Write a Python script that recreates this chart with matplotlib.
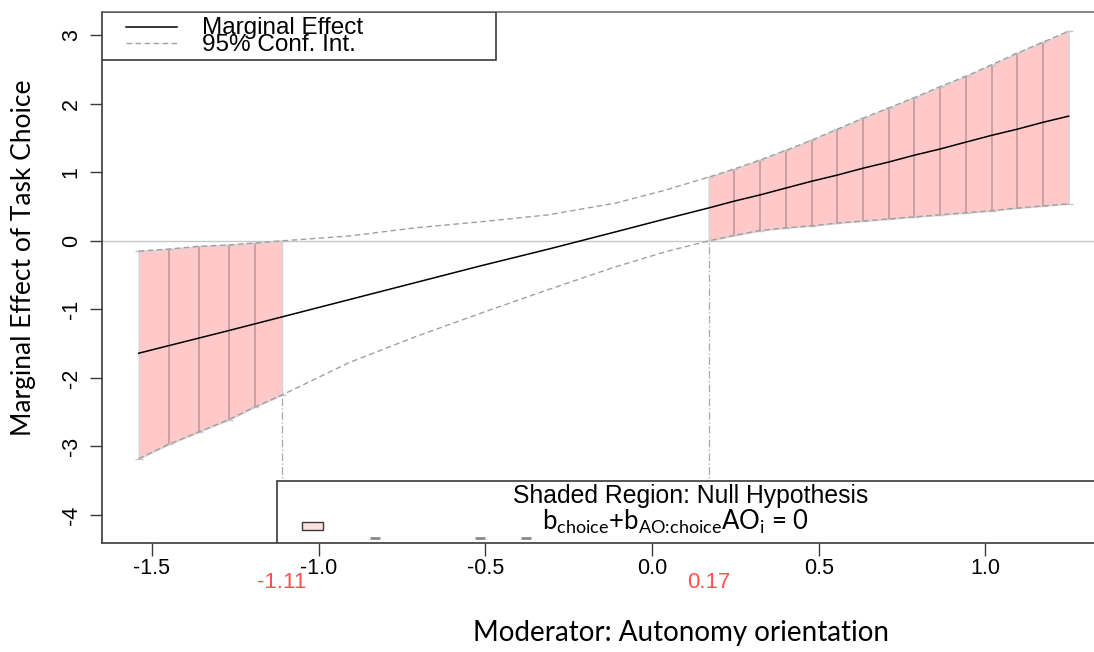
import numpy as np
import matplotlib
matplotlib.use("Agg")
import matplotlib.pyplot as plt
from matplotlib.patches import Rectangle
import matplotlib.transforms as mtransforms

# Datos
x_mod = [-1.54, -1.45, -1.36, -1.27, -1.19, -1.11, -0.91, -0.71, -0.51, -0.31,
         -0.11, 0.04, 0.17, 0.247, 0.324, 0.401, 0.479, 0.556, 0.633, 0.710,
         0.787, 0.864, 0.941, 1.019, 1.096, 1.173, 1.25]
effect = [-1.64, -1.53, -1.42, -1.31, -1.21, -1.11, -0.86, -0.61, -0.36, -0.12,
          0.13, 0.32, 0.48, 0.58, 0.67, 0.77, 0.87, 0.96, 1.06, 1.15,
          1.25, 1.34, 1.44, 1.54, 1.63, 1.73, 1.82]
ci_upper = [-0.15, -0.12, -0.08, -0.06, -0.03, 0.0, 0.07, 0.19, 0.28, 0.38,
            0.55, 0.74, 0.93, 1.05, 1.18, 1.32, 1.47, 1.63, 1.79, 1.94,
            2.09, 2.25, 2.40, 2.57, 2.74, 2.90, 3.06]
ci_lower = [-3.18, -2.97, -2.79, -2.61, -2.42, -2.25, -1.78, -1.40, -1.05, -0.71,
            -0.38, -0.16, 0.0, 0.08, 0.15, 0.19, 0.22, 0.26, 0.29, 0.32,
            0.35, 0.38, 0.41, 0.44, 0.48, 0.51, 0.54]
jn_points = [-1.11, 0.17]
jn_labels = ["-1.11", "0.17"]
x_ticks = [-1.5, -1.0, -0.5, 0.0, 0.5, 1.0]
y_ticks = [-4, -3, -2, -1, 0, 1, 2, 3]

x = np.array(x_mod)
me = np.array(effect)
up = np.array(ci_upper)
lo = np.array(ci_lower)

plt.rcParams["font.family"] = ["Liberation Sans", "DejaVu Sans"]
plt.rcParams["mathtext.fontset"] = "custom"
plt.rcParams["mathtext.rm"] = "Lato"
plt.rcParams["mathtext.it"] = "Lato"

W, H = 1094, 652
fig = plt.figure(figsize=(W / 100, H / 100), dpi=100)
ax = fig.add_axes([102 / W, 109 / H, 992 / W, 531 / H])
ax.set_xlim(-1.65, 1.326)
ax.set_ylim(-4.41, 3.34)

shade = "#ffc9c9"
bar_col = "#c39a9a"
left_mask = x <= jn_points[0] + 1e-9
right_mask = x >= jn_points[1] - 1e-9

# Regiones sombreadas (no significativas)
for m in (left_mask, right_mask):
    ax.fill_between(x[m], lo[m], up[m], facecolor=shade, edgecolor="#d4d4d4",
                    linewidth=1.0, zorder=1)
    xs = x[m]
    ax.vlines(xs[1:-1], lo[m][1:-1], up[m][1:-1], color=bar_col, linewidth=1.2, zorder=2)
    ax.hlines(np.r_[lo[m], up[m]], np.r_[xs, xs] - 0.012, np.r_[xs, xs] + 0.012,
              color="#c8c8c8", linewidth=1.0, zorder=2)

ax.axhline(0, color="#c8c8c8", linewidth=1.0, zorder=0)

# Lineas de referencia Johnson-Neyman
ax.vlines(jn_points[0], -4.41, lo[x == jn_points[0]][0], color="#a8a8a8",
          linestyle=(0, (6, 2, 1, 2)), linewidth=0.9, zorder=1)
ax.vlines(jn_points[1], -4.41, 0, color="#a8a8a8",
          linestyle=(0, (6, 2, 1, 2)), linewidth=0.9, zorder=1)

ax.plot(x, up, color="#a0a0a0", linestyle=(0, (4, 2.5)), linewidth=1.0, zorder=3)
ax.plot(x, lo, color="#a0a0a0", linestyle=(0, (4, 2.5)), linewidth=1.0, zorder=3)
ax.plot(x, me, color="black", linewidth=1.1, zorder=4)

# Ejes
for s in ("left", "bottom", "top"):
    ax.spines[s].set_color("#3a3a3a")
    ax.spines[s].set_linewidth(1.2)
ax.spines["top"].set_color("#707070")
ax.spines["right"].set_visible(False)
ax.set_xticks(x_ticks)
ax.set_xticklabels([f"{t:.1f}" for t in x_ticks])
ax.set_yticks(y_ticks)
ax.set_yticklabels([str(t) for t in y_ticks])
ax.tick_params(axis="x", length=9, width=1.0, pad=2, labelsize=15.5, colors="#3a3a3a",
               labelcolor="black")
ax.tick_params(axis="y", length=8.5, width=1.0, pad=6, labelsize=15.5, colors="#3a3a3a",
               labelcolor="black", labelrotation=90)
for lab in ax.get_yticklabels():
    lab.set_va("center")

# Leyenda superior
tA = ax.transAxes
ax.add_patch(Rectangle((0, 0.9096), 0.397, 0.0904, transform=tA, facecolor="white",
                       edgecolor="#3a3a3a", linewidth=1.2, zorder=6))
ax.plot([0.0242, 0.0756], [0.9718, 0.9718], transform=tA, color="black", linewidth=1.1, zorder=7)
ax.plot([0.0242, 0.0756], [0.9416, 0.9416], transform=tA, color="#a0a0a0",
        linestyle=(0, (4, 2.5)), linewidth=1.0, zorder=7)
ax.text(0.1008, 0.969, "Marginal Effect", transform=tA, fontsize=17.5, va="center",
        ha="left", zorder=7)
ax.text(0.1008, 0.938, "95% Conf. Int.", transform=tA, fontsize=17.5, va="center",
        ha="left", zorder=7)

# Leyenda inferior
ax.add_patch(Rectangle((0.1764, 0), 1.5, 0.1168, transform=tA, facecolor="white",
                       edgecolor="#3a3a3a", linewidth=1.2, zorder=6))
ax.add_patch(Rectangle((0.2016, 0.0245), 0.0212, 0.015, transform=tA, facecolor="#ffe0e0",
                       edgecolor="#3a3a3a", linewidth=1.0, zorder=7))
for xd in (0.275, 0.381, 0.427):
    ax.plot([xd - 0.005, xd + 0.005], [0.0094, 0.0094], transform=tA, color="#8a8a8a",
            linewidth=2, zorder=7, solid_capstyle="butt")
ax.text(0.593, 0.0885, "Shaded Region: Null Hypothesis", transform=tA, fontsize=17.8,
        ha="center", va="center", zorder=7)
ax.text(0.578, 0.040,
        r"$\mathrm{b}_{\text{choice}}{+}\mathrm{b}_{\text{AO:choice}}\mathrm{AO}_{\text{i}}$ = 0",
        transform=tA, fontsize=18.5, ha="center", va="center", zorder=7, family="Lato")

# Etiquetas de los puntos Johnson-Neyman
trans = mtransforms.blended_transform_factory(ax.transData, fig.transFigure)
for xp, lab in zip(jn_points, jn_labels):
    fig.text(xp, 69 / H, lab, transform=trans, color="#ff5050", fontsize=16,
             ha="center", va="center")

fig.text(681 / W, 1 - 633 / H, "Moderator: Autonomy orientation", fontsize=20,
         family="Lato", ha="center", va="center")
fig.text(24 / W, 1 - 258 / H, "Marginal Effect of Task Choice", fontsize=19,
         family="Lato", ha="center", va="center", rotation=90)

fig.savefig("out.png", dpi=100)
